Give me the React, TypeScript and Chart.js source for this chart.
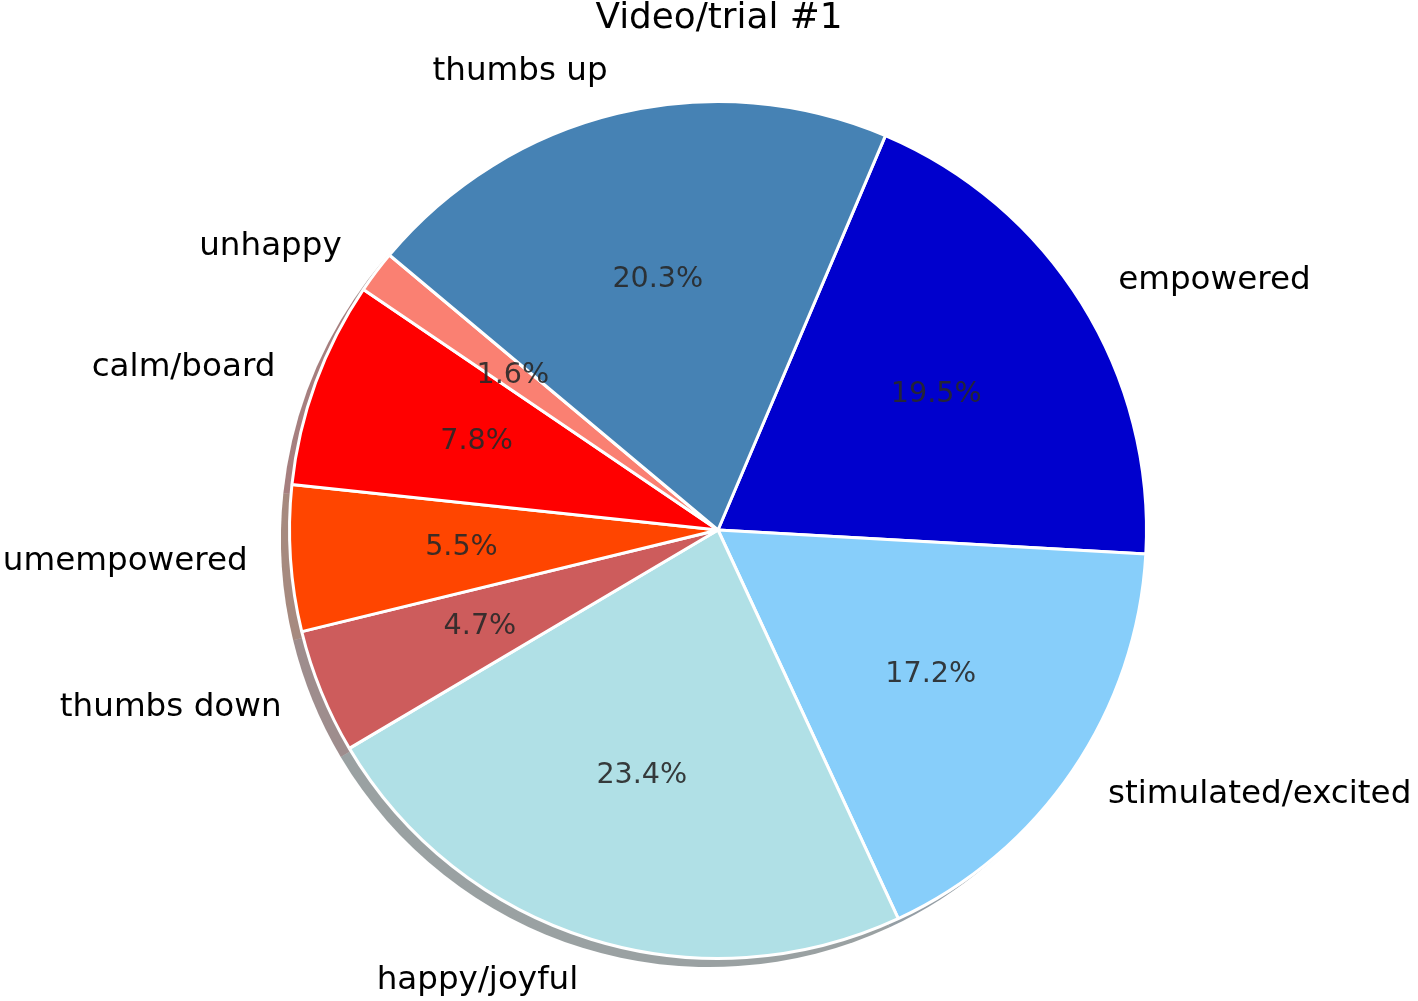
import React, { useEffect, useRef } from "react";
import { Chart, registerables } from "chart.js";

Chart.register(...registerables);

const TITLE = "Video/trial #1";
const categories = [
  "empowered",
  "stimulated/excited",
  "happy/joyful",
  "thumbs down",
  "umempowered",
  "calm/board",
  "unhappy",
  "thumbs up",
];
const percentages = [19.5, 17.2, 23.4, 4.7, 5.5, 7.8, 1.6, 20.3];
const sliceColors = [
  "#0000CD",
  "#87CEFA",
  "#B0E0E6",
  "#CD5C5C",
  "#FF4500",
  "#FF0000",
  "#FA8072",
  "#4682B4",
];

function hexToRgb(hex: string) {
  const h = hex.replace("#", "");
  return [
    parseInt(h.slice(0, 2), 16),
    parseInt(h.slice(2, 4), 16),
    parseInt(h.slice(4, 6), 16),
  ];
}

const FONT = '"DejaVu Sans", "Noto Sans", sans-serif';

const shadowPlugin = {
  id: "pieShadow",
  beforeDatasetsDraw(chart: any) {
    const meta = chart.getDatasetMeta(0);
    const ctx = chart.ctx;
    ctx.save();
    meta.data.forEach((arc: any, i: number) => {
      const r = arc.outerRadius;
      const off = r * 0.02;
      const [cr, cg, cb] = hexToRgb(sliceColors[i]);
      ctx.beginPath();
      ctx.moveTo(arc.x - off, arc.y + off);
      ctx.arc(arc.x - off, arc.y + off, r, arc.startAngle, arc.endAngle);
      ctx.closePath();
      ctx.fillStyle = `rgba(${Math.round(cr * 0.3)},${Math.round(cg * 0.3)},${Math.round(cb * 0.3)},0.5)`;
      ctx.fill();
    });
    ctx.restore();
  },
};

const labelPlugin = {
  id: "pieLabels",
  afterDatasetsDraw(chart: any) {
    const meta = chart.getDatasetMeta(0);
    const ctx = chart.ctx;
    ctx.save();
    meta.data.forEach((arc: any, i: number) => {
      const mid = (arc.startAngle + arc.endAngle) / 2;
      const r = arc.outerRadius;
      const cx = Math.cos(mid);
      const cy = Math.sin(mid);
      ctx.font = `32.6px ${FONT}`;
      ctx.fillStyle = "#000000";
      ctx.textBaseline = "middle";
      ctx.textAlign = cx > 0 ? "left" : "right";
      ctx.fillText(categories[i], arc.x + 1.1 * r * cx, arc.y + 1.1 * r * cy);
      ctx.font = `28.6px ${FONT}`;
      ctx.fillStyle = "rgba(40,40,40,0.9)";
      ctx.textAlign = "center";
      ctx.fillText(
        percentages[i].toFixed(1) + "%",
        arc.x + 0.6 * r * cx,
        arc.y + 0.6 * r * cy
      );
    });
    ctx.font = `35.8px ${FONT}`;
    ctx.fillStyle = "#000000";
    ctx.textAlign = "center";
    ctx.textBaseline = "middle";
    ctx.fillText(TITLE, 719, 19);
    ctx.restore();
  },
};

export default function App() {
  const ref = useRef<HTMLCanvasElement | null>(null);
  useEffect(() => {
    if (!ref.current) return;
    const chart = new Chart(ref.current, {
      type: "pie",
      data: {
        labels: categories,
        datasets: [
          {
            data: percentages,
            backgroundColor: sliceColors,
            borderColor: "#ffffff",
            borderWidth: 3,
            hoverOffset: 0,
            hoverBorderWidth: 3,
          },
        ],
      },
      options: {
        animation: false,
        responsive: false,
        devicePixelRatio: 1,
        rotation: 23,
        layout: { padding: { left: 288, right: 270, top: 100, bottom: 41 } },
        plugins: {
          legend: { display: false },
          title: { display: false },
          tooltip: { enabled: false },
        },
        events: [],
      },
      plugins: [shadowPlugin, labelPlugin],
    });
    return () => chart.destroy();
  }, []);
  return (
    <div style={{ position: "absolute", left: 0, top: 0, width: 1418, height: 1001, background: "#fff" }}>
      <canvas ref={ref} width={1418} height={1001} />
    </div>
  );
}
